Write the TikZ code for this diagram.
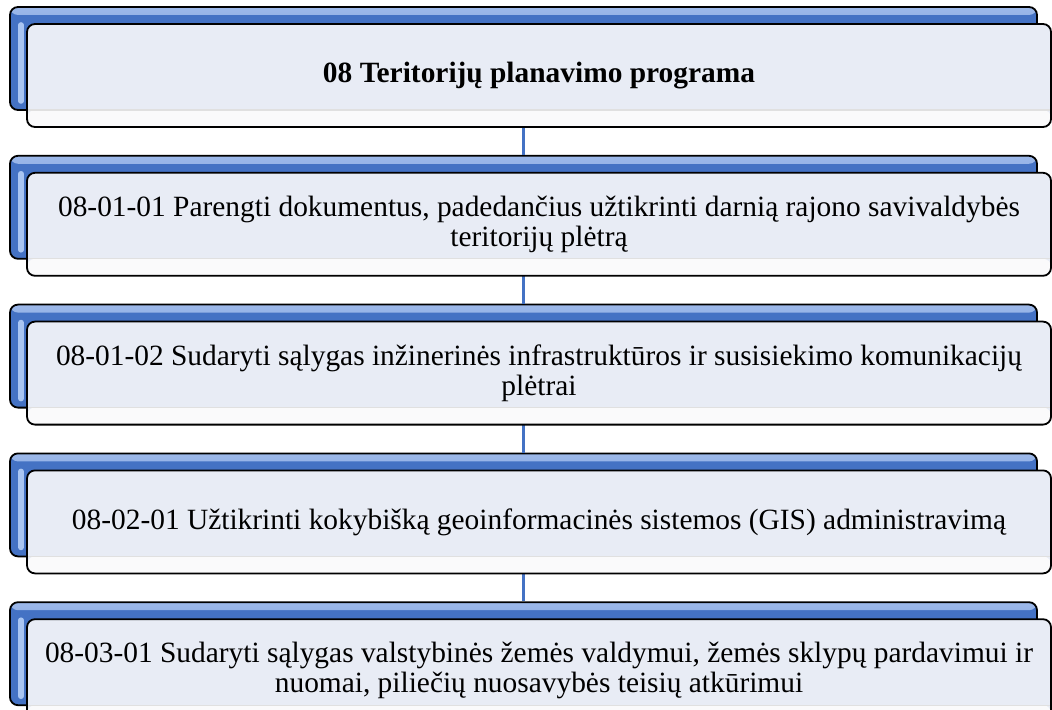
\documentclass[tikz,border=0pt]{standalone}
\usepackage{fontspec}
\setmainfont{Liberation Serif}
\usetikzlibrary{positioning}
\definecolor{barblue}{HTML}{4472C4}
\definecolor{barlight}{HTML}{9DB9EA}
\definecolor{barglow}{HTML}{A9C5F2}
\definecolor{paneface}{HTML}{E8ECF5}
\definecolor{panefoot}{HTML}{FAFAFB}
\tikzset{%
  bluebox/.style = {rectangle,rounded corners=4pt,draw=black,line width=0.9pt,
        fill=barblue,minimum width=513.5pt,minimum height=51.5pt,
        path picture={\shade[top color=barlight,bottom color=barblue]
          (path picture bounding box.north west) rectangle
          ([yshift=-4pt]path picture bounding box.north east);
          \draw[barglow,line width=2.8pt,line cap=round]
          ([xshift=5.5pt,yshift=-9pt]path picture bounding box.north west) --
          ([xshift=5.5pt,yshift=4.5pt]path picture bounding box.south west);}},
  whitebox/.style = {rectangle,rounded corners=4pt,draw=black,line width=0.9pt,
        fill=paneface,minimum width=512pt,minimum height=51.5pt,inner xsep=2pt,
        align=center,font=\fontsize{14.7pt}{15pt}\selectfont,
        path picture={\fill[panefoot]
          (path picture bounding box.south west) rectangle
          ([yshift=8.5pt]path picture bounding box.south east);
          \draw[black!12,line width=0.6pt]
          ([yshift=8.5pt]path picture bounding box.south west) --
          ([yshift=8.5pt]path picture bounding box.south east);}},
  joinline/.style = {draw=barblue,line width=1.5pt}
}
\begin{document}
\begin{tikzpicture}[node distance = 22pt]
  \useasboundingbox (0,0) rectangle (526pt,-355pt);
  % back bars
  \node[bluebox] (prog-b) at (261.75pt,-29.25pt) {};
  \node[bluebox,below=of prog-b] (t1-b) {};
  \node[bluebox,below=of t1-b] (t2-b) {};
  \node[bluebox,below=of t2-b] (t3-b) {};
  \node[bluebox,below=of t3-b] (t4-b) {};
  % connectors
  \draw[joinline] (prog-b) -- (t1-b);
  \draw[joinline] (t1-b) -- (t2-b);
  \draw[joinline] (t2-b) -- (t3-b);
  \draw[joinline] (t3-b) -- (t4-b);
  % front panes
  \node[whitebox,xshift=7.75pt,yshift=-8.5pt] (prog) at (prog-b)
    {\textbf{08 Teritorijų planavimo programa}};
  \node[whitebox,xshift=7.75pt,yshift=-8.5pt] (t1) at (t1-b)
    {08-01-01 Parengti dokumentus, padedančius užtikrinti darnią rajono savivaldybės\\teritorijų plėtrą};
  \node[whitebox,xshift=7.75pt,yshift=-8.5pt] (t2) at (t2-b)
    {08-01-02 Sudaryti sąlygas inžinerinės infrastruktūros ir susisiekimo komunikacijų\\plėtrai};
  \node[whitebox,xshift=7.75pt,yshift=-8.5pt] (t3) at (t3-b)
    {08-02-01 Užtikrinti kokybišką geoinformacinės sistemos (GIS) administravimą};
  \node[whitebox,xshift=7.75pt,yshift=-8.5pt] (t4) at (t4-b)
    {08-03-01 Sudaryti sąlygas valstybinės žemės valdymui, žemės sklypų pardavimui ir\\nuomai, piliečių nuosavybės teisių atkūrimui};
\end{tikzpicture}
\end{document}
